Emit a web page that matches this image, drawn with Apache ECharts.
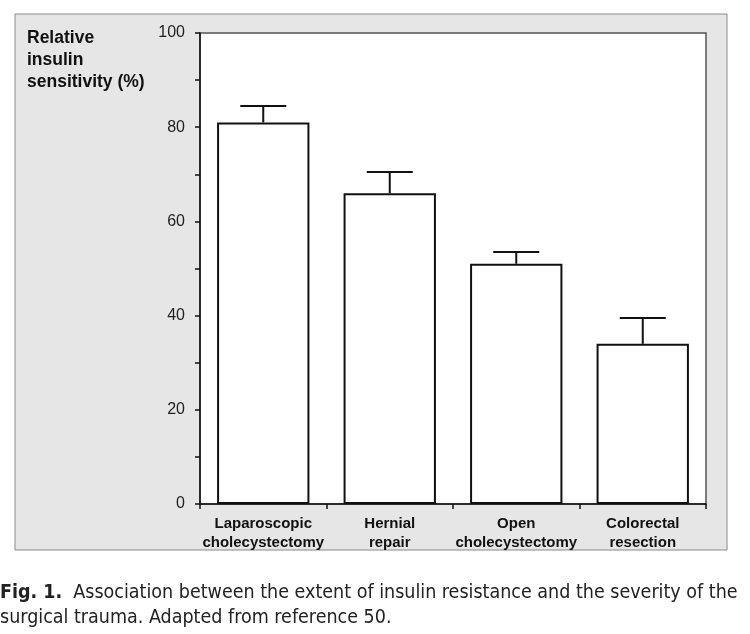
<!DOCTYPE html>
<html>
<head>
<meta charset="utf-8">
<script src="https://cdn.jsdelivr.net/npm/echarts@6/dist/echarts.min.js"></script>
<style>html,body{margin:0;padding:0;background:#fff;}#c{width:750px;height:634px;}</style>
</head>
<body>
<div id="c"></div>
<script>
const categories = ['Laparoscopic\ncholecystectomy', 'Hernial\nrepair', 'Open\ncholecystectomy', 'Colorectal\nresection'];
const means = [81, 66, 51, 34];
const errorUpper = [84.5, 70.5, 53.5, 39.5];
const yTicks = [0, 20, 40, 60, 80, 100];

const chart = echarts.init(document.getElementById('c'));
const errData = categories.map((c, i) => [i, means[i], errorUpper[i]]);

chart.setOption({
  backgroundColor: '#fff',
  animation: false,
  title: {
    text: 'Relative\ninsulin\nsensitivity (%)',
    left: 22, top: 22,
    textStyle: { fontFamily: 'Liberation Sans', fontWeight: 'bold', fontSize: 17.5, lineHeight: 22, color: '#111' }
  },
  graphic: [
    { type: 'rect', z: -10, shape: { x: 15, y: 14, width: 712, height: 536 },
      style: { fill: '#e6e6e6', stroke: '#8a8a8a', lineWidth: 1 } },
    { type: 'text', left: 0, top: 580, z: 10,
      style: {
        text: '{b|Fig. 1.}  Association between the extent of insulin resistance and the severity of the\nsurgical trauma. Adapted from reference 50.',
        fontFamily: 'DejaVu Sans Condensed, sans-serif', fontSize: 19.5, lineHeight: 25, fill: '#222',
        rich: { b: { fontFamily: 'DejaVu Sans Condensed, sans-serif', fontWeight: 'bold', fontSize: 19.5, fill: '#222' } }
      } }
  ],
  grid: { left: 200, top: 33, right: 44, bottom: 130, show: true, backgroundColor: '#fff', borderColor: '#555', borderWidth: 1.5 },
  xAxis: {
    type: 'category', data: categories,
    axisLine: { lineStyle: { color: '#111', width: 1.5 } },
    axisTick: { show: true, interval: 0, length: 5, lineStyle: { color: '#111', width: 1.5 } },
    axisLabel: { interval: 0, margin: 10, fontFamily: 'Liberation Sans', fontWeight: 'bold', fontSize: 15, lineHeight: 19, color: '#111' }
  },
  yAxis: {
    type: 'value', min: 0, max: 100, interval: 20,
    splitLine: { show: false },
    axisLine: { show: true, lineStyle: { color: '#111', width: 1.5 } },
    axisTick: { show: true, length: 5, lineStyle: { color: '#111', width: 1.5 } },
    minorTick: { show: true, splitNumber: 2, length: 5, lineStyle: { color: '#111', width: 1.5 } },
    axisLabel: { margin: 15, fontFamily: 'Liberation Sans', fontSize: 16, color: '#222',
      formatter: v => yTicks.includes(v) ? String(v) : '' }
  },
  series: [
    { type: 'bar', data: means, barWidth: '73%',
      itemStyle: { color: '#fff', borderColor: '#111', borderWidth: 2 } },
    { type: 'custom', data: errData, z: 5,
      renderItem: function (params, api) {
        const x = api.value(0);
        const top = api.coord([x, api.value(1)]);
        const hi = api.coord([x, api.value(2)]);
        const half = 23;
        return { type: 'group', children: [
          { type: 'line', shape: { x1: top[0], y1: top[1], x2: hi[0], y2: hi[1] }, style: { stroke: '#111', lineWidth: 2 } },
          { type: 'line', shape: { x1: hi[0] - half, y1: hi[1], x2: hi[0] + half, y2: hi[1] }, style: { stroke: '#111', lineWidth: 2 } }
        ] };
      } }
  ]
});
</script>
</body>
</html>
